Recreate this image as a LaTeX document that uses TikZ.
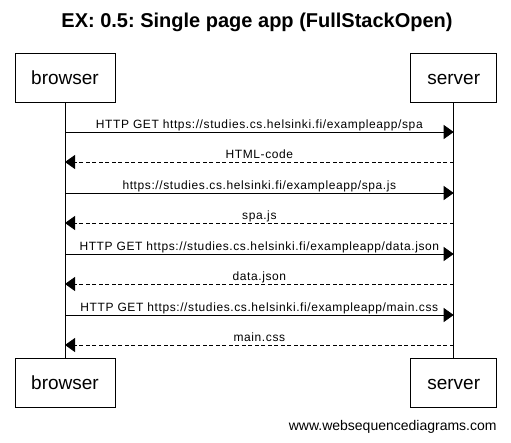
\documentclass[tikz,border=0pt]{standalone}
\usepackage{fontspec}
\setmainfont{Liberation Sans}
\usetikzlibrary{arrows.meta}

\begin{document}
\frenchspacing
\begin{tikzpicture}[x=1pt,y=-1pt,>={Triangle[length=10pt,width=14pt]},line width=0.8pt,
    actor/.style={draw,minimum height=49pt,inner sep=0pt,text height=13.5pt,text depth=0pt,font=\fontsize{19}{22}\selectfont},
    msg/.style={->},
    reply/.style={->,dash pattern=on 4pt off 2.5pt},
    lbl/.style={midway,anchor=base,yshift=4pt,inner sep=0pt,font=\fontsize{12}{14}\selectfont\addfontfeature{LetterSpace=5}}]

    \useasboundingbox (0,0) rectangle (511,442);

    \node[font=\bfseries\fontsize{20}{24}\selectfont] (title) at (257,22) {EX: 0.5: Single page app (FullStackOpen)};

    \node[actor,minimum width=100pt] (btop) at (65,77.5) {browser};
    \node[actor,minimum width=86pt] (stop) at (453.7,77.5) {server};
    \node[actor,minimum width=100pt] (bbot) at (65,382.5) {browser};
    \node[actor,minimum width=86pt] (sbot) at (453.7,382.5) {server};

    % lifelines
    \draw (btop) -- (bbot);
    \draw (stop) -- (sbot);

    \foreach \i/\y in {1/132,2/162,3/193,4/223,5/254,6/284,7/315,8/345}{
        \coordinate (b\i) at (65,\y);
        \coordinate (s\i) at (453.7,\y);
    }

    \draw[msg] (b1) -- (s1) node[lbl] {HTTP GET https://studies.cs.helsinki.fi/exampleapp/spa};
    \draw[reply] (s2) -- (b2) node[lbl] {HTML-code};
    \draw[msg] (b3) -- (s3) node[lbl] {https://studies.cs.helsinki.fi/exampleapp/spa.js};
    \draw[reply] (s4) -- (b4) node[lbl] {spa.js};
    \draw[msg] (b5) -- (s5) node[lbl] {HTTP GET https://studies.cs.helsinki.fi/exampleapp/data.json};
    \draw[reply] (s6) -- (b6) node[lbl] {data.json};
    \draw[msg] (b7) -- (s7) node[lbl] {HTTP GET https://studies.cs.helsinki.fi/exampleapp/main.css};
    \draw[reply] (s8) -- (b8) node[lbl] {main.css};

    \node[anchor=east,inner sep=0pt,font=\fontsize{14}{16}\selectfont] (wsd) at (497,427) {www.websequencediagrams.com};
\end{tikzpicture}
\end{document}
